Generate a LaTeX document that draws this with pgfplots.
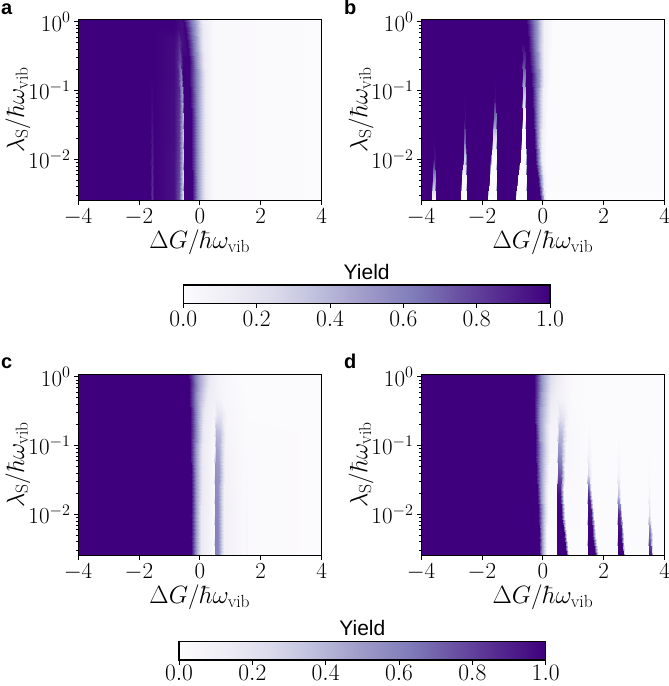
\RequirePackage{fix-cm}
\documentclass[border=0pt]{standalone}
\usepackage{fontspec}
\usepackage{pgfplots}
\pgfplotsset{compat=1.18}
\newfontfamily\helv{Liberation Sans}
\newcommand\ticksize{\fontsize{23}{26}\selectfont}
\newcommand\labsize{\fontsize{25}{30}\selectfont}
\pgfplotsset{
  colormap={purples}{rgb255=(252,251,253) rgb255=(239,237,245) rgb255=(218,218,235) rgb255=(188,189,220)
    rgb255=(158,154,200) rgb255=(128,125,186) rgb255=(106,81,163) rgb255=(84,39,143) rgb255=(63,0,125)},
  heatpanel/.style={
    scale only axis, width=243.7pt, height=181.7pt, anchor=south west,
    xmin=-4, xmax=4, ymin=0.0025, ymax=1.1,
    colormap name=purples, point meta min=0, point meta max=1,
    axis on top, axis line style={line width=0.9pt},
    xtick={-4,-2,0,2,4}, ytick={0.01,0.1,1},
    minor ytick={0.003,0.004,0.005,0.006,0.007,0.008,0.009,0.02,0.03,0.04,0.05,0.06,0.07,0.08,0.09,0.2,0.3,0.4,0.5,0.6,0.7,0.8,0.9},
    tick align=outside, xtick pos=bottom, ytick pos=left,
    major tick length=4pt, minor tick length=2.2pt,
    tick style={black, line width=0.8pt},
    tick label style={font=\ticksize},
    xlabel={$\Delta G/\hbar\omega_{\mathrm{vib}}$},
    ylabel={$\lambda_{\mathrm{S}}/\hbar\omega_{\mathrm{vib}}$},
    label style={font=\labsize},
    xlabel style={at={(axis description cs:0.5,0)}, anchor=center, yshift=-42pt},
    ylabel style={at={(axis description cs:0,0.5)}, anchor=center, yshift=60pt},
  },
  cbar/.style={
    scale only axis, width=366.7pt, height=18.3pt, anchor=south west,
    xmin=0, xmax=1, ymin=0, ymax=1, ytick=\empty,
    colormap name=purples, point meta min=0, point meta max=1,
    axis on top, axis line style={line width=1.2pt},
    xtick={0,0.2,0.4,0.6,0.8,1}, xtick pos=bottom, tick align=outside,
    major tick length=5pt, tick style={black, line width=0.9pt},
    xticklabel style={font=\fontsize{23.5}{27}\selectfont, /pgf/number format/.cd, fixed, fixed zerofill, precision=1},
    title={\helv\fontsize{21}{25}\selectfont Yield}, title style={yshift=-4pt},
  },
}
\begin{document}
\begin{tikzpicture}
\useasboundingbox (0pt,0pt) rectangle (669pt,686pt);

% panel a
\begin{axis}[ymode=log, heatpanel, at={(78pt,485.3pt)}]
\addplot[surf, shader=interp, mesh/cols=13, point meta=explicit] coordinates {
(-4,.0025)[1] (-1.62,.0025)[1] (-1.56,.0025)[.85] (-1.5,.0025)[1] (-.85,.0025)[.95] (-.7,.0025)[.75] (-.54,.0025)[.2] (-.51,.0025)[1] (-.27,.0025)[1] (-.05,.0025)[.5] (.16,.0025)[.15] (.44,.0025)[.03] (4,.0025)[.01]
(-4,.005)[1] (-1.62,.005)[1] (-1.56,.005)[.87] (-1.5,.005)[1] (-.85,.005)[.95] (-.7,.005)[.78] (-.54,.005)[.25] (-.51,.005)[1] (-.27,.005)[1] (-.05,.005)[.5] (.16,.005)[.15] (.44,.005)[.03] (4,.005)[.01]
(-4,.01)[1] (-1.62,.01)[1] (-1.56,.01)[.9] (-1.5,.01)[1] (-.85,.01)[.95] (-.7,.01)[.8] (-.55,.01)[.3] (-.52,.01)[1] (-.28,.01)[1] (-.05,.01)[.5] (.16,.01)[.15] (.44,.01)[.03] (4,.01)[.01]
(-4,.02)[1] (-1.62,.02)[1] (-1.56,.02)[.93] (-1.5,.02)[1] (-.85,.02)[.96] (-.7,.02)[.82] (-.55,.02)[.32] (-.52,.02)[1] (-.29,.02)[1] (-.05,.02)[.5] (.16,.02)[.15] (.44,.02)[.03] (4,.02)[.01]
(-4,.04)[1] (-1.62,.04)[1] (-1.56,.04)[.96] (-1.5,.04)[1] (-.85,.04)[.96] (-.7,.04)[.83] (-.56,.04)[.38] (-.52,.04)[1] (-.3,.04)[1] (-.06,.04)[.5] (.16,.04)[.15] (.44,.04)[.03] (4,.04)[.01]
(-4,.08)[1] (-1.62,.08)[1] (-1.56,.08)[.98] (-1.5,.08)[1] (-.85,.08)[.96] (-.7,.08)[.85] (-.58,.08)[.5] (-.53,.08)[1] (-.32,.08)[1] (-.06,.08)[.5] (.16,.08)[.15] (.44,.08)[.03] (4,.08)[.01]
(-4,.16)[1] (-1.62,.16)[1] (-1.56,.16)[1] (-1.5,.16)[1] (-.85,.16)[.97] (-.72,.16)[.88] (-.62,.16)[.6] (-.54,.16)[1] (-.34,.16)[1] (-.07,.16)[.5] (.16,.16)[.15] (.44,.16)[.03] (4,.16)[.01]
(-4,.28)[1] (-1.62,.28)[1] (-1.56,.28)[1] (-1.5,.28)[1] (-.85,.28)[.97] (-.75,.28)[.9] (-.65,.28)[.78] (-.56,.28)[1] (-.37,.28)[1] (-.1,.28)[.5] (.14,.28)[.15] (.44,.28)[.03] (4,.28)[.01]
(-4,.5)[1] (-1.62,.5)[1] (-1.56,.5)[1] (-1.5,.5)[1] (-.85,.5)[.97] (-.75,.5)[.93] (-.68,.5)[.85] (-.58,.5)[.95] (-.42,.5)[1] (-.14,.5)[.5] (.12,.5)[.15] (.44,.5)[.03] (4,.5)[.01]
(-4,.8)[1] (-1.62,.8)[1] (-1.56,.8)[1] (-1.5,.8)[1] (-.85,.8)[1] (-.75,.8)[.98] (-.68,.8)[.97] (-.6,.8)[.96] (-.5,.8)[1] (-.16,.8)[.5] (.1,.8)[.15] (.44,.8)[.03] (4,.8)[.01]
(-4,1.1)[1] (-1.62,1.1)[1] (-1.56,1.1)[1] (-1.5,1.1)[1] (-.85,1.1)[1] (-.75,1.1)[.98] (-.68,1.1)[.97] (-.6,1.1)[.96] (-.55,1.1)[1] (-.18,1.1)[.5] (.08,1.1)[.15] (.44,1.1)[.03] (4,1.1)[.01]
};
\end{axis}

% panel b
\begin{axis}[ymode=log, heatpanel, at={(421pt,485.3pt)}]
\addplot[surf, shader=interp, mesh/cols=22, point meta=explicit] coordinates {
(-4,.0025)[1] (-3.67,.0025)[1] (-3.63,.0025)[0] (-3.53,.0025)[0] (-3.5,.0025)[1] (-2.72,.0025)[1] (-2.68,.0025)[0] (-2.52,.0025)[0] (-2.49,.0025)[1] (-1.84,.0025)[1] (-1.79,.0025)[0] (-1.53,.0025)[0] (-1.5,.0025)[1] (-.92,.0025)[1] (-.88,.0025)[0] (-.54,.0025)[0] (-.51,.0025)[1] (-.09,.0025)[1] (0,.0025)[.5] (.06,.0025)[.1] (.14,.0025)[0] (4,.0025)[0]
(-4,.005)[1] (-3.63,.005)[1] (-3.59,.005)[.5] (-3.53,.005)[.45] (-3.5,.005)[1] (-2.68,.005)[1] (-2.64,.005)[.05] (-2.53,.005)[.05] (-2.49,.005)[1] (-1.78,.005)[1] (-1.74,.005)[0] (-1.53,.005)[0] (-1.5,.005)[1] (-.84,.005)[1] (-.8,.005)[0] (-.56,.005)[0] (-.52,.005)[1] (-.17,.005)[1] (-.06,.005)[.5] (.03,.005)[.1] (.12,.005)[.01] (4,.005)[.01]
(-4,.01)[1] (-3.6,.01)[1] (-3.57,.01)[.95] (-3.53,.01)[.95] (-3.5,.01)[1] (-2.63,.01)[1] (-2.6,.01)[.3] (-2.54,.01)[.25] (-2.5,.01)[1] (-1.72,.01)[1] (-1.68,.01)[0] (-1.54,.01)[0] (-1.5,.01)[1] (-.76,.01)[1] (-.72,.01)[0] (-.57,.01)[0] (-.53,.01)[1] (-.25,.01)[1] (-.14,.01)[.5] (-.03,.01)[.1] (.1,.01)[.01] (4,.01)[.01]
(-4,.02)[1] (-3.6,.02)[1] (-3.57,.02)[1] (-3.53,.02)[1] (-3.5,.02)[1] (-2.6,.02)[1] (-2.58,.02)[.75] (-2.54,.02)[.7] (-2.51,.02)[1] (-1.66,.02)[1] (-1.62,.02)[.2] (-1.54,.02)[.2] (-1.5,.02)[1] (-.72,.02)[1] (-.68,.02)[0] (-.58,.02)[0] (-.54,.02)[1] (-.3,.02)[1] (-.16,.02)[.5] (-.02,.02)[.1] (.12,.02)[.01] (4,.02)[.01]
(-4,.04)[1] (-3.6,.04)[1] (-3.57,.04)[1] (-3.53,.04)[1] (-3.5,.04)[1] (-2.58,.04)[1] (-2.57,.04)[.96] (-2.54,.04)[.96] (-2.52,.04)[1] (-1.62,.04)[1] (-1.59,.04)[.65] (-1.55,.04)[.6] (-1.52,.04)[1] (-.69,.04)[1] (-.65,.04)[.02] (-.58,.04)[.02] (-.54,.04)[1] (-.33,.04)[1] (-.16,.04)[.5] (0,.04)[.1] (.15,.04)[.01] (4,.04)[.01]
(-4,.08)[1] (-3.6,.08)[1] (-3.57,.08)[1] (-3.53,.08)[1] (-3.5,.08)[1] (-2.58,.08)[1] (-2.57,.08)[1] (-2.54,.08)[1] (-2.52,.08)[1] (-1.6,.08)[1] (-1.58,.08)[.96] (-1.56,.08)[.96] (-1.53,.08)[1] (-.68,.08)[1] (-.65,.08)[.3] (-.59,.08)[.3] (-.55,.08)[1] (-.36,.08)[1] (-.15,.08)[.5] (.02,.08)[.1] (.18,.08)[.01] (4,.08)[.01]
(-4,.16)[1] (-3.6,.16)[1] (-3.57,.16)[1] (-3.53,.16)[1] (-3.5,.16)[1] (-2.58,.16)[1] (-2.57,.16)[1] (-2.54,.16)[1] (-2.52,.16)[1] (-1.6,.16)[1] (-1.58,.16)[1] (-1.56,.16)[1] (-1.53,.16)[1] (-.68,.16)[1] (-.65,.16)[.6] (-.6,.16)[.6] (-.56,.16)[1] (-.4,.16)[1] (-.14,.16)[.5] (.04,.16)[.1] (.22,.16)[.01] (4,.16)[.01]
(-4,.28)[1] (-3.6,.28)[1] (-3.57,.28)[1] (-3.53,.28)[1] (-3.5,.28)[1] (-2.58,.28)[1] (-2.57,.28)[1] (-2.54,.28)[1] (-2.52,.28)[1] (-1.6,.28)[1] (-1.58,.28)[1] (-1.56,.28)[1] (-1.53,.28)[1] (-.68,.28)[1] (-.65,.28)[.85] (-.6,.28)[.85] (-.56,.28)[1] (-.45,.28)[1] (-.16,.28)[.5] (.05,.28)[.1] (.28,.28)[.01] (4,.28)[.01]
(-4,.5)[1] (-3.6,.5)[1] (-3.57,.5)[1] (-3.53,.5)[1] (-3.5,.5)[1] (-2.58,.5)[1] (-2.57,.5)[1] (-2.54,.5)[1] (-2.52,.5)[1] (-1.6,.5)[1] (-1.58,.5)[1] (-1.56,.5)[1] (-1.53,.5)[1] (-.68,.5)[1] (-.65,.5)[1] (-.6,.5)[1] (-.56,.5)[1] (-.5,.5)[1] (-.18,.5)[.5] (.05,.5)[.1] (.33,.5)[.01] (4,.5)[.01]
(-4,.8)[1] (-3.6,.8)[1] (-3.57,.8)[1] (-3.53,.8)[1] (-3.5,.8)[1] (-2.58,.8)[1] (-2.57,.8)[1] (-2.54,.8)[1] (-2.52,.8)[1] (-1.6,.8)[1] (-1.58,.8)[1] (-1.56,.8)[1] (-1.53,.8)[1] (-.68,.8)[1] (-.65,.8)[1] (-.6,.8)[1] (-.56,.8)[1] (-.53,.8)[1] (-.19,.8)[.5] (.05,.8)[.1] (.34,.8)[.01] (4,.8)[.01]
(-4,1.1)[1] (-3.6,1.1)[1] (-3.57,1.1)[1] (-3.53,1.1)[1] (-3.5,1.1)[1] (-2.58,1.1)[1] (-2.57,1.1)[1] (-2.54,1.1)[1] (-2.52,1.1)[1] (-1.6,1.1)[1] (-1.58,1.1)[1] (-1.56,1.1)[1] (-1.53,1.1)[1] (-.68,1.1)[1] (-.65,1.1)[1] (-.6,1.1)[1] (-.58,1.1)[1] (-.55,1.1)[1] (-.2,1.1)[.5] (.05,1.1)[.1] (.35,1.1)[.01] (4,1.1)[.01]
};
\end{axis}

% panel c
\begin{axis}[ymode=log, heatpanel, at={(78pt,130.3pt)}]
\addplot[surf, shader=interp, mesh/cols=12, point meta=explicit] coordinates {
(-4,.0025)[1] (-.28,.0025)[1] (-.13,.0025)[.5] (.05,.0025)[.15] (.47,.0025)[.03] (.5,.0025)[.62] (.6,.0025)[.58] (.8,.0025)[.1] (1.48,.0025)[.02] (1.53,.0025)[.07] (1.58,.0025)[.02] (4,.0025)[.01]
(-4,.005)[1] (-.28,.005)[1] (-.13,.005)[.5] (.05,.005)[.15] (.47,.005)[.03] (.5,.005)[.62] (.6,.005)[.58] (.8,.005)[.1] (1.48,.005)[.02] (1.53,.005)[.07] (1.58,.005)[.02] (4,.005)[.01]
(-4,.01)[1] (-.29,.01)[1] (-.13,.01)[.5] (.05,.01)[.15] (.47,.01)[.03] (.5,.01)[.6] (.6,.01)[.56] (.8,.01)[.1] (1.48,.01)[.02] (1.53,.01)[.06] (1.58,.01)[.02] (4,.01)[.01]
(-4,.02)[1] (-.3,.02)[1] (-.13,.02)[.5] (.06,.02)[.15] (.47,.02)[.03] (.5,.02)[.58] (.61,.02)[.54] (.8,.02)[.1] (1.48,.02)[.02] (1.53,.02)[.04] (1.58,.02)[.02] (4,.02)[.01]
(-4,.04)[1] (-.3,.04)[1] (-.12,.04)[.5] (.07,.04)[.15] (.47,.04)[.03] (.51,.04)[.55] (.62,.04)[.5] (.82,.04)[.08] (1.48,.04)[.02] (1.53,.04)[.03] (1.58,.04)[.02] (4,.04)[.01]
(-4,.08)[1] (-.31,.08)[1] (-.11,.08)[.5] (.08,.08)[.15] (.48,.08)[.03] (.52,.08)[.5] (.63,.08)[.45] (.84,.08)[.08] (1.48,.08)[.02] (1.53,.08)[.02] (1.58,.08)[.02] (4,.08)[.01]
(-4,.16)[1] (-.32,.16)[1] (-.1,.16)[.5] (.1,.16)[.15] (.48,.16)[.05] (.54,.16)[.4] (.66,.16)[.35] (.86,.16)[.06] (1.48,.16)[.02] (1.53,.16)[.02] (1.58,.16)[.02] (4,.16)[.01]
(-4,.28)[1] (-.33,.28)[1] (-.09,.28)[.5] (.14,.28)[.15] (.48,.28)[.07] (.55,.28)[.2] (.68,.28)[.18] (.88,.28)[.05] (1.48,.28)[.02] (1.53,.28)[.02] (1.58,.28)[.01] (4,.28)[.01]
(-4,.5)[1] (-.35,.5)[1] (-.08,.5)[.5] (.22,.5)[.15] (.5,.5)[.1] (.58,.5)[.08] (.7,.5)[.06] (.9,.5)[.04] (1.3,.5)[.02] (1.5,.5)[.01] (1.6,.5)[.01] (4,.5)[.01]
(-4,.8)[1] (-.37,.8)[1] (-.07,.8)[.5] (.3,.8)[.15] (.55,.8)[.08] (.65,.8)[.06] (.78,.8)[.04] (1,.8)[.03] (1.2,.8)[.02] (1.5,.8)[.01] (1.6,.8)[.01] (4,.8)[.01]
(-4,1.1)[1] (-.39,1.1)[1] (-.06,1.1)[.5] (.33,1.1)[.15] (.6,1.1)[.06] (.67,1.1)[.05] (.8,1.1)[.04] (1,1.1)[.03] (1.2,1.1)[.01] (1.5,1.1)[.01] (1.6,1.1)[.01] (4,1.1)[.01]
};
\end{axis}

% panel d
\begin{axis}[ymode=log, heatpanel, at={(421pt,130.3pt)}]
\addplot[surf, shader=interp, mesh/cols=21, point meta=explicit] coordinates {
(-4,.0025)[1] (-.12,.0025)[1] (-.02,.0025)[.5] (.12,.0025)[0] (.46,.0025)[0] (.48,.0025)[1] (.76,.0025)[1] (.86,.0025)[.01] (1.45,.0025)[.01] (1.47,.0025)[1] (1.7,.0025)[1] (1.84,.0025)[.01] (2.45,.0025)[.01] (2.47,.0025)[1] (2.62,.0025)[1] (2.7,.0025)[.01] (3.45,.0025)[.01] (3.47,.0025)[.95] (3.56,.0025)[.9] (3.62,.0025)[.01] (4,.0025)[.01]
(-4,.005)[1] (-.14,.005)[1] (-.03,.005)[.5] (.14,.005)[.01] (.46,.005)[.01] (.48,.005)[1] (.7,.005)[1] (.8,.005)[.01] (1.45,.005)[.01] (1.47,.005)[1] (1.63,.005)[1] (1.76,.005)[.01] (2.45,.005)[.01] (2.47,.005)[1] (2.57,.005)[.95] (2.66,.005)[.01] (3.45,.005)[.01] (3.47,.005)[.7] (3.53,.005)[.65] (3.6,.005)[.01] (4,.005)[.01]
(-4,.01)[1] (-.17,.01)[1] (-.04,.01)[.5] (.16,.01)[.02] (.46,.01)[.02] (.48,.01)[1] (.6,.01)[1] (.72,.01)[.02] (1.45,.01)[.01] (1.47,.01)[.97] (1.57,.01)[.95] (1.68,.01)[.01] (2.45,.01)[.01] (2.47,.01)[.9] (2.53,.01)[.8] (2.6,.01)[.01] (3.45,.01)[.01] (3.47,.01)[.3] (3.5,.01)[.25] (3.56,.01)[.01] (4,.01)[.01]
(-4,.02)[1] (-.2,.02)[1] (-.05,.02)[.5] (.18,.02)[.03] (.46,.02)[.03] (.48,.02)[.97] (.56,.02)[.95] (.68,.02)[.03] (1.45,.02)[.01] (1.47,.02)[.9] (1.53,.02)[.8] (1.62,.02)[.01] (2.45,.02)[.01] (2.47,.02)[.35] (2.51,.02)[.3] (2.57,.02)[.01] (3.45,.02)[.01] (3.47,.02)[.1] (3.5,.02)[.08] (3.55,.02)[.01] (4,.02)[.01]
(-4,.04)[1] (-.22,.04)[1] (-.06,.04)[.5] (.2,.04)[.04] (.46,.04)[.04] (.49,.04)[.75] (.58,.04)[.7] (.72,.04)[.04] (1.45,.04)[.01] (1.47,.04)[.25] (1.52,.04)[.2] (1.6,.04)[.01] (2.45,.04)[.01] (2.47,.04)[.08] (2.51,.04)[.07] (2.57,.04)[.01] (3.45,.04)[.01] (3.47,.04)[.03] (3.5,.04)[.03] (3.55,.04)[.01] (4,.04)[.01]
(-4,.08)[1] (-.25,.08)[1] (-.07,.08)[.5] (.22,.08)[.05] (.47,.08)[.05] (.5,.08)[.55] (.6,.08)[.5] (.76,.08)[.05] (1.45,.08)[.01] (1.47,.08)[.08] (1.52,.08)[.07] (1.6,.08)[.01] (2.45,.08)[.01] (2.47,.08)[.03] (2.51,.08)[.03] (2.57,.08)[.01] (3.45,.08)[.01] (3.47,.08)[.01] (3.5,.08)[.01] (3.55,.08)[.01] (4,.08)[.01]
(-4,.16)[1] (-.27,.16)[1] (-.08,.16)[.5] (.24,.16)[.07] (.48,.16)[.06] (.52,.16)[.4] (.63,.16)[.35] (.8,.16)[.04] (1.45,.16)[.01] (1.47,.16)[.02] (1.52,.16)[.02] (1.6,.16)[.01] (2.45,.16)[.01] (2.47,.16)[.01] (2.51,.16)[.01] (2.57,.16)[.01] (3.45,.16)[.01] (3.47,.16)[.01] (3.5,.16)[.01] (3.55,.16)[.01] (4,.16)[.01]
(-4,.28)[1] (-.28,.28)[1] (-.08,.28)[.5] (.26,.28)[.1] (.48,.28)[.08] (.55,.28)[.2] (.68,.28)[.15] (.85,.28)[.03] (1.45,.28)[.01] (1.47,.28)[.01] (1.52,.28)[.01] (1.6,.28)[.01] (2.45,.28)[.01] (2.47,.28)[.01] (2.51,.28)[.01] (2.57,.28)[.01] (3.45,.28)[.01] (3.47,.28)[.01] (3.5,.28)[.01] (3.55,.28)[.01] (4,.28)[.01]
(-4,.5)[1] (-.3,.5)[1] (-.06,.5)[.5] (.26,.5)[.15] (.45,.5)[.1] (.55,.5)[.08] (.7,.5)[.06] (.95,.5)[.02] (1.45,.5)[.01] (1.47,.5)[.01] (1.52,.5)[.01] (1.6,.5)[.01] (2.45,.5)[.01] (2.47,.5)[.01] (2.51,.5)[.01] (2.57,.5)[.01] (3.45,.5)[.01] (3.47,.5)[.01] (3.5,.5)[.01] (3.55,.5)[.01] (4,.5)[.01]
(-4,.8)[1] (-.3,.8)[1] (-.04,.8)[.5] (.26,.8)[.2] (.45,.8)[.12] (.55,.8)[.09] (.75,.8)[.05] (1,.8)[.02] (1.45,.8)[.01] (1.47,.8)[.01] (1.52,.8)[.01] (1.6,.8)[.01] (2.45,.8)[.01] (2.47,.8)[.01] (2.51,.8)[.01] (2.57,.8)[.01] (3.45,.8)[.01] (3.47,.8)[.01] (3.5,.8)[.01] (3.55,.8)[.01] (4,.8)[.01]
(-4,1.1)[1] (-.28,1.1)[1] (-.02,1.1)[.5] (.26,1.1)[.22] (.45,1.1)[.14] (.55,1.1)[.1] (.75,1.1)[.05] (1,1.1)[.02] (1.45,1.1)[.01] (1.47,1.1)[.01] (1.52,1.1)[.01] (1.6,1.1)[.01] (2.45,1.1)[.01] (2.47,1.1)[.01] (2.51,1.1)[.01] (2.57,1.1)[.01] (3.45,1.1)[.01] (3.47,1.1)[.01] (3.5,1.1)[.01] (3.55,1.1)[.01] (4,1.1)[.01]
};
\end{axis}

% colour bars
\begin{axis}[cbar, at={(183.3pt,382.7pt)}]
\addplot[surf, shader=interp, mesh/cols=5, point meta=explicit] coordinates {
(0,0)[0] (.25,0)[.25] (.5,0)[.5] (.75,0)[.75] (1,0)[1]
(0,1)[0] (.25,1)[.25] (.5,1)[.5] (.75,1)[.75] (1,1)[1]
};
\end{axis}
\begin{axis}[cbar, at={(179pt,26pt)}, xticklabel shift=-3.5pt]
\addplot[surf, shader=interp, mesh/cols=5, point meta=explicit] coordinates {
(0,0)[0] (.25,0)[.25] (.5,0)[.5] (.75,0)[.75] (1,0)[1]
(0,1)[0] (.25,1)[.25] (.5,1)[.5] (.75,1)[.75] (1,1)[1]
};
\end{axis}

\node[anchor=base west, inner sep=0pt, font=\helv\bfseries\fontsize{20}{24}\selectfont] at (1pt,671pt) {a};
\node[anchor=base west, inner sep=0pt, font=\helv\bfseries\fontsize{20}{24}\selectfont] at (344pt,671pt) {b};
\node[anchor=base west, inner sep=0pt, font=\helv\bfseries\fontsize{20}{24}\selectfont] at (1pt,317pt) {c};
\node[anchor=base west, inner sep=0pt, font=\helv\bfseries\fontsize{20}{24}\selectfont] at (344pt,317pt) {d};
\end{tikzpicture}
\end{document}
